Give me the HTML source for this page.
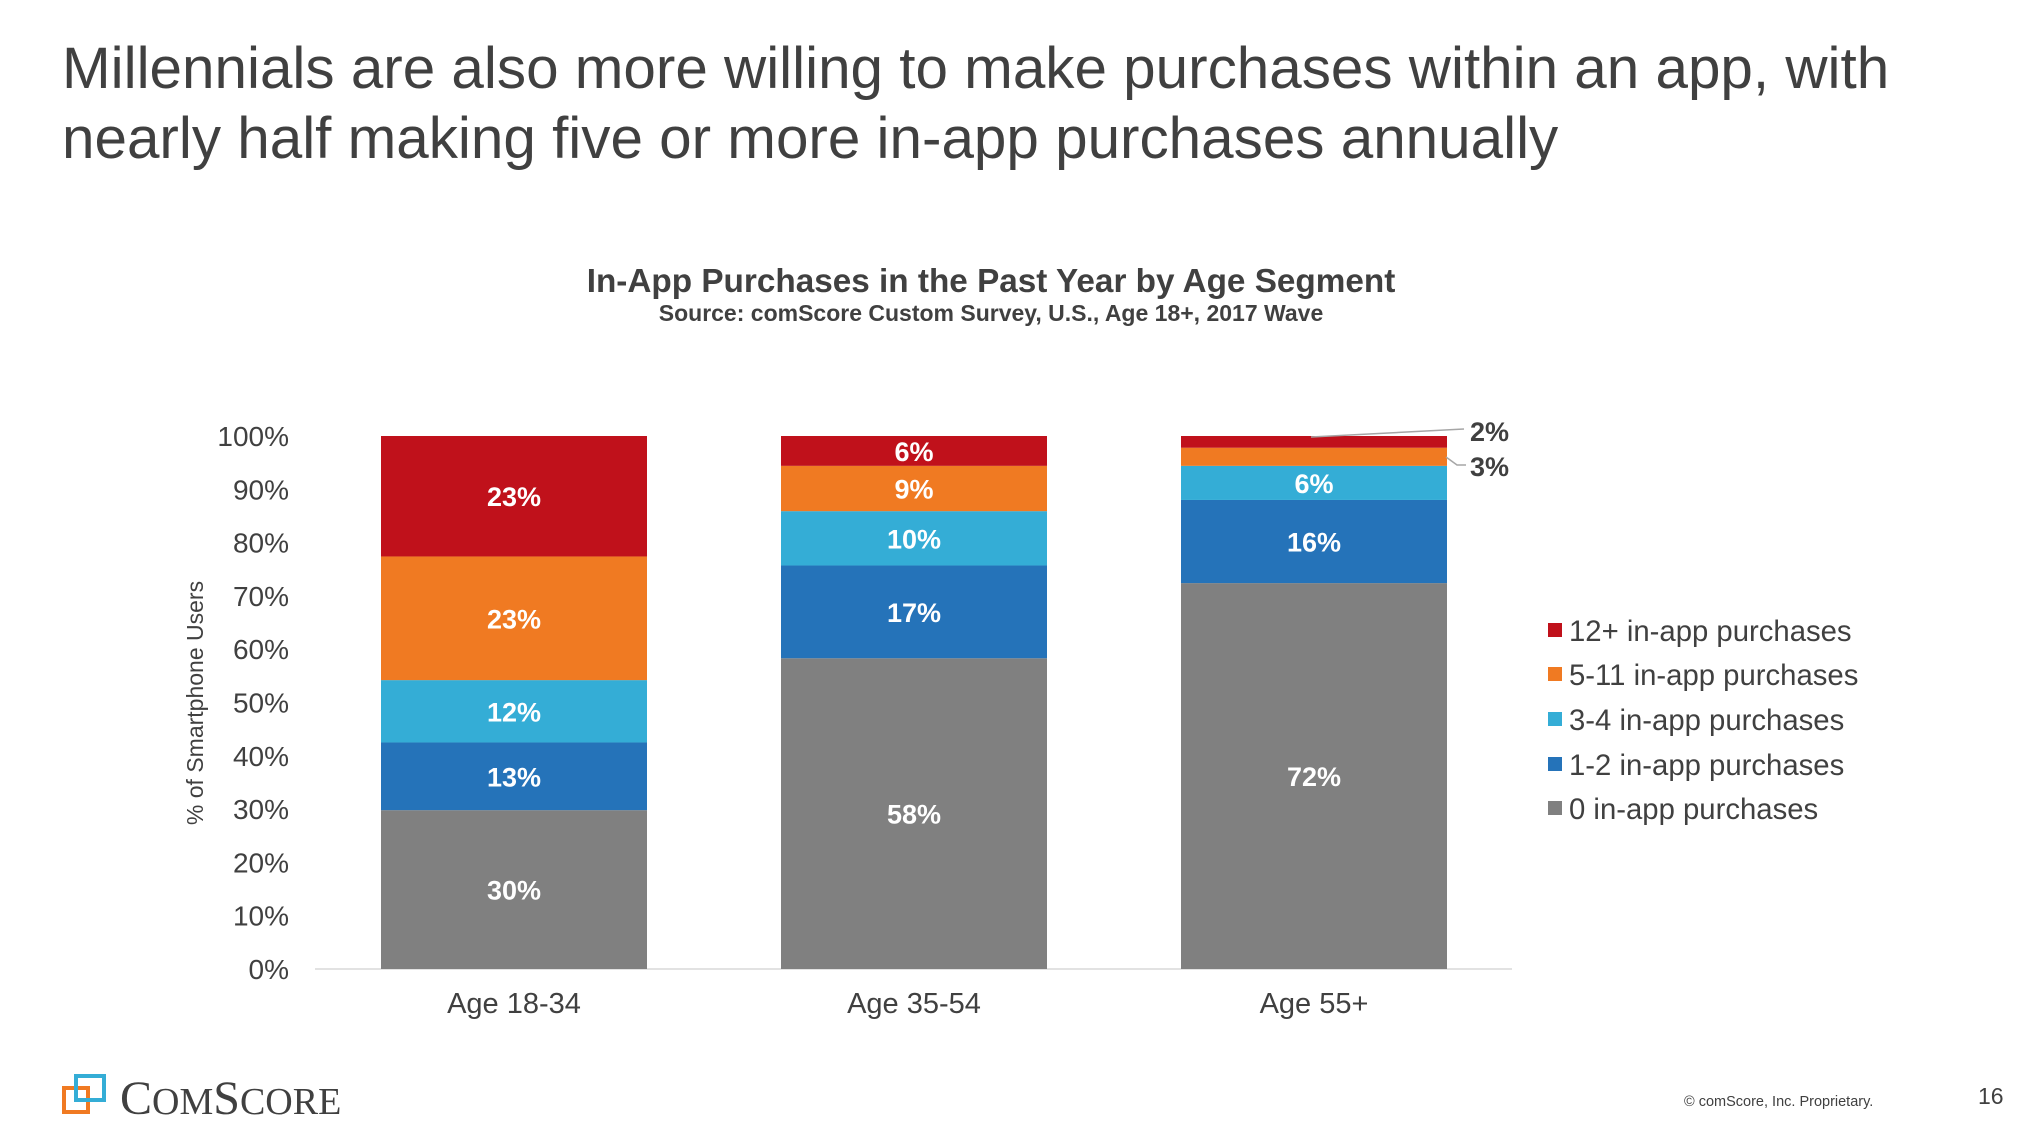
<!DOCTYPE html>
<html><head><meta charset="utf-8"><style>
html,body{margin:0;padding:0;background:#fff;}
svg{display:block;font-family:"Liberation Sans",Arial,sans-serif;}
</style></head><body>
<svg id="chart" width="2040" height="1148" viewBox="0 0 2040 1148" xmlns="http://www.w3.org/2000/svg">
<g fill="#404040" font-size="58.4">
<text x="62" y="88">Millennials are also more willing to make purchases within an app, with</text>
<text x="62" y="158">nearly half making five or more in-app purchases annually</text>
</g>
<text x="991" y="292" text-anchor="middle" font-size="33.3" font-weight="bold" fill="#404040">In-App Purchases in the Past Year by Age Segment</text>
<text x="991" y="321" text-anchor="middle" font-size="23" font-weight="bold" fill="#404040">Source: comScore Custom Survey, U.S., Age 18+, 2017 Wave</text>
<text transform="translate(203,703) rotate(-90)" text-anchor="middle" font-size="23" fill="#404040">% of Smartphone Users</text>
<g id="yticks"></g>
<line x1="315" y1="969" x2="1512" y2="969" stroke="#d9d9d9" stroke-width="1.5"/>
<g id="bars"></g>
<g id="xlabels"></g>
<g id="legend"></g>
<g stroke="#a6a6a6" stroke-width="1.5" fill="none">
<polyline points="1311,437 1464,429"/>
<polyline points="1446,457 1457,465 1466,465"/>
</g>
<g>
<rect x="64" y="1088" width="24" height="24" fill="none" stroke="#F07A22" stroke-width="4"/>
<rect x="76" y="1076" width="28" height="24" fill="none" stroke="#34ADD6" stroke-width="4"/>
<text x="120" y="1114" font-family="Liberation Serif,serif" font-size="48" fill="#404040">C<tspan font-size="38">OM</tspan>S<tspan font-size="38">CORE</tspan></text>
</g>
<text x="1684" y="1106" font-size="14.5" fill="#404040">© comScore, Inc. Proprietary.</text>
<text x="1978" y="1104" font-size="23" fill="#404040">16</text>
</svg>
<script>
const categories = ["Age 18-34", "Age 35-54", "Age 55+"];
const seriesNames = ["0 in-app purchases", "1-2 in-app purchases", "3-4 in-app purchases", "5-11 in-app purchases", "12+ in-app purchases"];
const zeroPurchases = [29.8, 58.3, 72.4];
const oneTwo = [12.7, 17.4, 15.6];
const threeFour = [11.7, 10.2, 6.4];
const fiveEleven = [23.2, 8.5, 3.4];
const twelvePlus = [22.7, 5.6, 2.2];
const yTicks = [0, 10, 20, 30, 40, 50, 60, 70, 80, 90, 100];
const colors = ["#808080", "#2573B9", "#34ADD6", "#F07A22", "#C0111B"];
const series = [zeroPurchases, oneTwo, threeFour, fiveEleven, twelvePlus];
const NS = "http://www.w3.org/2000/svg";
const y0 = 969, y100 = 436;
const yScale = v => y0 - (Math.min(v, 100) / 100) * (y0 - y100);
const bandStart = 315, bandStep = 400, barW = 266;
const xCenter = i => bandStart + 199 + i * bandStep;
function mk(tag, attrs, parent) { const e = document.createElementNS(NS, tag); for (const k in attrs) e.setAttribute(k, attrs[k]); parent.appendChild(e); return e; }
const yt = document.getElementById('yticks');
yTicks.forEach(t => {
  const el = mk('text', {x: 289, y: yScale(t) + 10, 'text-anchor': 'end', 'font-size': 28, fill: '#404040'}, yt);
  el.textContent = t + '%';
  
  
});
const bars = document.getElementById('bars');
categories.forEach((c, i) => {
  let cum = 0;
  series.forEach((s, j) => {
    const v = s[i];
    const top = yScale(cum + v), bot = yScale(cum);
    const r = mk('rect', {x: xCenter(i) - barW / 2, y: top, width: barW, height: Math.max(0, bot - top), fill: colors[j]}, bars);
    
    
    const small = v < 4;
    const lbl = mk('text', {
      x: small ? 1470 : xCenter(i),
      y: small ? (j === 4 ? 441 : 476) : (top + bot) / 2 + 10,
      'text-anchor': small ? 'start' : 'middle',
      'font-size': 27, 'font-weight': 'bold', fill: small ? '#404040' : '#fff'}, bars);
    lbl.textContent = Math.round(v) + '%';
    
    
    cum += v;
  });
});
const xl = document.getElementById('xlabels');
categories.forEach((c, i) => {
  const el = mk('text', {x: xCenter(i), y: 1013, 'text-anchor': 'middle', 'font-size': 29, fill: '#404040'}, xl);
  el.textContent = c;
  
  
});
const lg = document.getElementById('legend');
const legendY = [631, 675, 720, 765, 809];
for (let k = 0; k < 5; k++) {
  const j = 4 - k;
  const sw = mk('rect', {x: 1548, y: legendY[k] - 8, width: 14, height: 14, fill: colors[j]}, lg);
  
  
  const t = mk('text', {x: 1569, y: legendY[k] + 10, 'font-size': 29.3, fill: '#404040'}, lg);
  t.textContent = seriesNames[j];
  
  
}
</script>
</body></html>
